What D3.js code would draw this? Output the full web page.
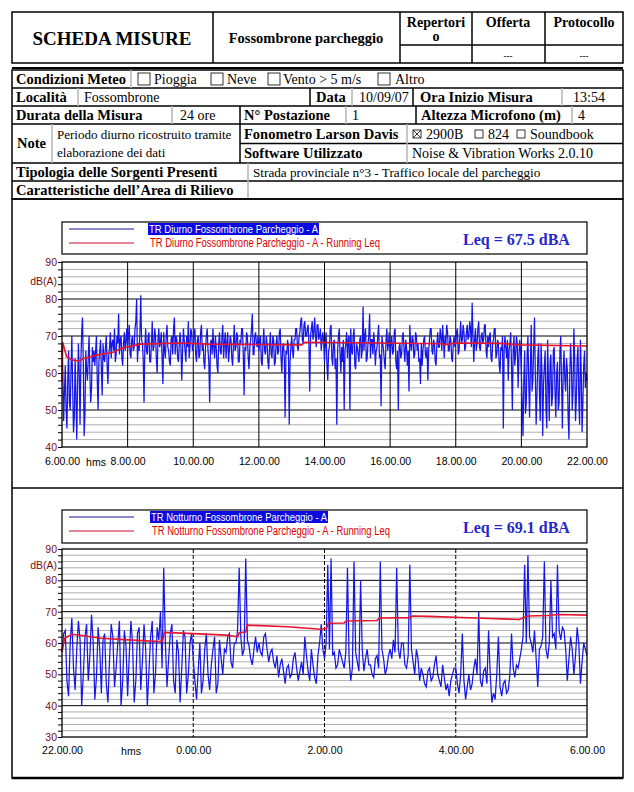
<!DOCTYPE html>
<html>
<head>
<meta charset="utf-8">
<script src="https://cdn.jsdelivr.net/npm/d3@7/dist/d3.min.js"></script>
<style>
  body { margin: 0; background: #fff; }
</style>
</head>
<body>
<script>
//Diurno: level every 1.5 minutes from 6.00 to 22.00 (one row = one hour)
var diurnoStart = 6;
var diurnoLevels = [
  68,60,47,55,62,50,45,58,66,52,50,61,70,56,44,48,64,54,42,57,68,60,46,63,71,75,62,43,49,66,61,58,64,70,60,52,56,67,63,66,
  62,66,70,58,50,63,66,69,61,54,68,64,63,67,70,62,57,65,67,71,64,68,69,66,72,63,65,70,68,76,65,69,70,64,62,68,71,66,69,72,
  66,70,73,65,64,69,70,66,67,72,74,80,63,68,66,71,81,69,68,64,52,67,72,66,65,70,71,63,63,68,74,66,67,72,70,64,60,69,72,67,
  68,71,64,57,71,66,64,70,73,67,66,63,62,69,70,65,72,75,65,70,69,64,63,68,71,67,58,66,72,69,66,63,70,67,74,64,67,72,71,66,
  67,70,72,65,63,69,70,64,65,71,73,66,68,63,61,67,70,72,66,63,52,68,69,65,72,67,64,70,67,62,60,68,71,66,65,70,73,64,68,71,
  64,68,71,63,66,70,69,64,62,68,73,66,67,71,70,63,63,69,68,72,72,65,54,67,66,71,70,64,61,67,69,72,76,65,65,70,71,68,67,70,
  66,69,70,63,62,68,72,66,65,70,68,63,61,67,71,65,64,70,69,62,63,68,70,65,66,71,72,64,60,67,68,64,48,66,65,69,67,46,63,67,
  70,66,64,69,69,72,72,67,66,70,71,74,75,69,68,73,74,70,70,72,73,68,55,70,72,74,69,71,75,70,67,73,73,69,70,72,66,69,71,68,
  63,68,71,62,58,66,67,72,73,64,62,68,69,61,64,46,66,70,72,65,60,67,63,69,50,66,68,71,64,69,70,50,72,66,65,70,72,62,61,68,
  67,65,63,69,70,64,66,78,66,70,72,63,64,68,70,76,64,69,69,65,71,68,62,66,67,70,73,64,65,51,70,68,66,63,61,69,72,66,68,71,
  64,68,70,65,66,71,72,63,61,66,50,67,68,64,65,70,71,66,63,69,67,62,66,55,73,68,66,70,69,64,65,71,70,66,68,63,64,57,68,62,
  66,69,70,65,64,67,58,66,69,72,72,66,65,69,68,63,62,68,71,67,67,72,70,66,73,69,64,70,68,73,71,66,66,70,69,64,63,68,70,67,
  68,71,72,65,66,70,74,68,69,73,71,66,67,71,73,69,70,74,72,67,79,70,63,69,72,66,68,72,74,67,66,70,71,68,69,73,73,66,64,70,
  67,70,71,64,63,68,69,72,72,64,65,69,68,62,60,67,66,70,45,66,70,67,64,69,58,66,68,71,62,50,66,70,62,65,70,68,56,64,69,66,
  60,52,43,58,66,49,52,65,70,57,48,62,73,55,58,67,75,60,46,54,64,68,55,47,68,61,43,57,62,66,50,45,69,58,47,63,65,51,54,66,
  67,55,48,60,63,50,52,66,70,57,45,61,66,58,55,64,61,48,42,59,68,62,50,55,72,64,47,53,64,67,53,46,69,60,44,52,62,66,56,60,
  58
];
var diurnoLeqTimes  = [6.0, 6.02, 6.14, 6.3, 6.5, 6.69, 7.1, 7.56, 7.82, 8.38, 9.65, 10.46, 13.3, 13.4, 15.7, 17.6, 17.65, 18.0, 19.35, 20.0, 22.0];
var diurnoLeqValues = [57.6, 68.3, 64.4, 63.6, 63.2, 64.0, 64.9, 65.6, 66.7, 67.8, 68.1, 67.8, 67.6, 68.3, 68.1, 67.9, 67.6, 68.1, 68.0, 67.6, 67.3];
var diurnoTicks = [6, 8, 10, 12, 14, 16, 18, 20, 22];
var diurnoTickLabels = ["6.00.00", "8.00.00", "10.00.00", "12.00.00", "14.00.00", "16.00.00", "18.00.00", "20.00.00", "22.00.00"];

//Notturno: level every 1.5 minutes from 22.00 to 6.00 (hours after midnight counted as 24+)
var notturnoStart = 22;
var notturnoLevels = [
  57,63,64,48,43,60,68,52,45,58,67,61,40,50,62,66,48,56,69,60,42,49,65,58,44,61,63,47,41,55,66,62,46,52,60,67,40,48,64,59,
  43,56,67,60,41,48,63,65,45,54,66,58,40,51,62,67,44,50,65,61,70,52,84,60,46,55,63,66,48,44,61,57,41,52,64,62,44,50,60,63,
  55,48,42,51,60,44,48,58,63,50,45,53,58,62,44,47,61,55,50,58,57,62,63,54,52,60,60,64,84,62,56,58,87,61,59,55,53,58,62,57,
  60,57,56,62,63,58,54,57,58,54,52,56,49,53,55,51,47,52,53,49,50,55,57,52,48,51,54,50,62,56,51,48,58,53,49,47,56,60,66,58,
  55,60,85,58,87,56,57,52,53,58,56,54,52,57,84,55,48,52,86,57,54,51,80,58,51,55,58,53,53,50,49,55,56,52,86,58,55,50,52,56,
  58,55,61,57,84,58,55,60,60,53,52,56,85,58,54,50,58,55,48,52,50,47,46,51,52,48,49,53,56,50,48,46,53,49,45,47,43,48,50,52,
  52,47,44,50,63,48,42,46,50,45,47,52,55,50,70,48,46,51,52,47,64,50,41,44,42,50,62,46,43,47,48,44,45,50,63,52,49,53,52,55,
  58,62,85,60,88,62,60,57,64,55,46,58,59,62,86,58,55,60,80,62,63,58,85,64,61,65,64,58,48,55,62,58,50,56,65,60,47,54,60,58,
  56
];
var notturnoLeqTimes  = [22.0, 22.04, 22.15, 22.3, 22.6, 23.0, 23.5, 23.53, 23.56, 24.0, 24.5, 24.68, 24.7, 24.8, 24.82, 25.44, 25.74, 25.95, 26.03, 26.06, 26.3, 26.33, 26.8, 26.84, 27.3, 27.34, 27.6, 28.3, 28.97, 29.05, 29.1, 29.4, 29.57, 30.0];
var notturnoLeqValues = [57.2, 61.5, 62.8, 62.4, 61.5, 61.0, 60.5, 60.6, 63.4, 63.0, 62.5, 62.0, 63.3, 63.5, 65.7, 65.2, 64.7, 64.4, 64.6, 66.3, 66.4, 67.0, 67.2, 68.0, 68.1, 68.6, 68.5, 68.0, 67.5, 68.2, 68.6, 68.8, 69.1, 68.9];
var notturnoTicks = [22, 24, 26, 28, 30];
var notturnoTickLabels = ["22.00.00", "0.00.00", "2.00.00", "4.00.00", "6.00.00"];

var stepHours = 1.5 / 60;

var serif = "'Liberation Serif','Times New Roman',serif";
var sans = "'Liberation Sans',Arial,sans-serif";

var svg = d3.select("body").append("svg")
            .attr("width", 634)
            .attr("height", 792);

function hline(x1, x2, y, c, w) {
  svg.append("line").attr("x1", x1).attr("x2", x2).attr("y1", y).attr("y2", y)
     .attr("stroke", c || "#000").attr("stroke-width", w || 1.5);
}
function vline(x, y1, y2, c, w) {
  svg.append("line").attr("x1", x).attr("x2", x).attr("y1", y1).attr("y2", y2)
     .attr("stroke", c || "#000").attr("stroke-width", w || 1.5);
}
function txt(x, y, s, size, bold, anchor) {
  return svg.append("text")
            .attr("x", x).attr("y", y)
            .attr("font-family", serif)
            .attr("font-size", size + "px")
            .attr("font-weight", bold ? "bold" : "normal")
            .attr("text-anchor", anchor || "start")
            .text(s);
}
function box(x, y, s, checked) {
  svg.append("rect").attr("x", x).attr("y", y).attr("width", s).attr("height", s)
     .attr("fill", "none").attr("stroke", "#000").attr("stroke-width", 0.8);
  if (checked) {
    svg.append("path").attr("d", "M" + x + "," + y + "L" + (x + s) + "," + (y + s) + "M" + (x + s) + "," + y + "L" + x + "," + (y + s))
       .attr("stroke", "#000").attr("stroke-width", 0.8);
  }
}

var grey = "#b4b4b4";

//Header
svg.append("rect").attr("x", 12).attr("y", 12).attr("width", 611).attr("height", 51)
   .attr("fill", "none").attr("stroke", "#000").attr("stroke-width", 1.5);
vline(213, 12, 63); vline(400, 12, 63); vline(472, 12, 63); vline(545, 12, 63);
hline(400, 623, 45);
hline(12, 623, 68, "#000", 2);
txt(112, 45, "SCHEDA MISURE", 19, true, "middle");
txt(306, 43, "Fossombrone parcheggio", 14.5, true, "middle");
txt(436, 27, "Repertori", 14, true, "middle");
txt(436, 41, "o", 14, true, "middle");
txt(508, 27, "Offerta", 14, true, "middle");
txt(584, 27, "Protocollo", 14, true, "middle");
txt(508, 59, "---", 9, true, "middle");
txt(584, 59, "---", 9, true, "middle");

//Form rows
svg.append("rect").attr("x", 12).attr("y", 70).attr("width", 611).attr("height", 129)
   .attr("fill", "none").attr("stroke", "#000").attr("stroke-width", 1.5);
[88, 106, 124, 163, 181].forEach(function (y) { hline(12, 623, y); });
hline(240, 623, 143.5);

var L = 14.5, V = 14;
txt(16, 84, "Condizioni Meteo", L, true);
vline(131, 70, 88, grey);
box(138, 73, 12); txt(154, 84, "Pioggia", V);
box(211, 73, 12); txt(227, 84, "Neve", V);
box(268, 73, 12); txt(283, 84, "Vento > 5 m/s", V);
box(378, 73, 12); txt(395, 84, "Altro", V);

txt(16, 102, "Località", L, true);
vline(78, 88, 106, grey);
txt(84, 102, "Fossombrone", V);
vline(310, 88, 106);
txt(316, 102, "Data", L, true);
vline(352, 88, 106, grey);
txt(359, 102, "10/09/07", V);
vline(413, 88, 106);
txt(420, 102, "Ora Inizio Misura", L, true);
vline(562, 88, 106, grey);
txt(573, 102, "13:54", V);

txt(16, 120, "Durata della Misura", L, true);
vline(172, 106, 124, grey);
txt(180, 120, "24 ore", V);
vline(240, 106, 124);
txt(244, 120, "N° Postazione", L, true);
vline(346, 106, 124, grey);
txt(352, 120, "1", V);
vline(416, 106, 124);
txt(421, 120, "Altezza Microfono (m)", L, true);
vline(572, 106, 124, grey);
txt(578, 120, "4", V);

txt(17, 148, "Note", L, true);
vline(52, 124, 163, grey);
txt(57, 139, "Periodo diurno ricostruito tramite", 13);
txt(57, 157, "elaborazione dei dati", 13);
vline(240, 124, 163);
txt(244, 139, "Fonometro Larson Davis", L, true);
txt(244, 158, "Software Utilizzato", L, true);
vline(407, 124, 163, grey);
box(413, 130, 8, true); txt(426, 139, "2900B", V);
box(475, 130, 8); txt(488, 139, "824", V);
box(517, 130, 8); txt(530, 139, "Soundbook", V);
txt(412, 158, "Noise & Vibration Works 2.0.10", V);

txt(16, 177, "Tipologia delle Sorgenti Presenti", L, true);
vline(248, 163, 181, grey);
txt(253, 176.5, "Strada provinciale n°3 - Traffico locale del parcheggio", 13.2);
txt(16, 195, "Caratteristiche dell’Area di Rilievo", L, true);
vline(248, 181, 199, grey);

//Chart panels
svg.append("rect").attr("x", 12).attr("y", 199).attr("width", 611).attr("height", 579)
   .attr("fill", "none").attr("stroke", "#000").attr("stroke-width", 1.5);
hline(12, 623, 488, "#000", 1.5);
hline(12, 623, 778, "#000", 2.5);

function drawChart(o) {
  var x = d3.scaleLinear().domain([o.tMin, o.tMax]).range([62, 587]);
  var y = d3.scaleLinear().domain([o.yMin, o.yMax]).range([o.bottom, o.top]);
  var g = svg.append("g");

  //horizontal grid
  var levels = d3.range(o.yMin, o.yMax + 1, 2);
  g.selectAll(".hg").data(levels.slice(1, -1)).enter().append("line")
   .attr("x1", 62).attr("x2", 587)
   .attr("y1", function (d) { return y(d); })
   .attr("y2", function (d) { return y(d); })
   .attr("stroke", function (d) { return d % 10 === 0 ? "#000" : "#b0b0b0"; })
   .attr("stroke-width", 1);

  //vertical grid
  g.selectAll(".vg").data(o.ticks.slice(1, -1)).enter().append("line")
   .attr("x1", function (d) { return x(d); })
   .attr("x2", function (d) { return x(d); })
   .attr("y1", o.top).attr("y2", o.bottom)
   .attr("stroke", "#000").attr("stroke-width", 1)
   .attr("stroke-dasharray", o.dashed ? "4,2" : null);

  //measured level
  var pts = o.levels.map(function (v, i) { return [o.start + i * stepHours, v]; });
  var line = d3.line().x(function (d) { return x(d[0]); }).y(function (d) { return y(d[1]); });
  g.append("path").datum(pts)
   .attr("d", line)
   .attr("fill", "none").attr("stroke", "#1616e8").attr("stroke-width", 1.25)
   .attr("stroke-linejoin", "miter");

  //running Leq
  var leq = o.leqT.map(function (t, i) { return [t, o.leqV[i]]; });
  g.append("path").datum(leq)
   .attr("d", line)
   .attr("fill", "none").attr("stroke", "#e4152f").attr("stroke-width", 1.6);

  //frame
  g.append("rect").attr("x", 62).attr("y", o.top).attr("width", 525).attr("height", o.bottom - o.top)
   .attr("fill", "none").attr("stroke", "#000").attr("stroke-width", 1.3);

  //y axis
  var ya = g.append("g").attr("transform", "translate(62,0)")
            .call(d3.axisLeft(y).tickValues(levels).tickSize(4).tickPadding(1)
                    .tickFormat(function (d) { return d % 10 === 0 ? d : ""; }));
  ya.select(".domain").remove();
  ya.selectAll("text").attr("fill", "#7a0c0c").attr("font-family", sans).attr("font-size", "10.5px");
  g.append("text").attr("x", 57).attr("y", y(85) + 4).attr("text-anchor", "end")
   .attr("font-family", sans).attr("font-size", "10.5px").attr("fill", "#7a0c0c").text("dB(A)");

  //x axis labels
  var xa = g.append("g").attr("transform", "translate(0," + o.bottom + ")")
            .call(d3.axisBottom(x).tickValues(o.ticks).tickSize(0).tickPadding(o.pad)
                    .tickFormat(function (d, i) { return o.tickLabels[i]; }));
  xa.select(".domain").remove();
  xa.selectAll("text").attr("fill", "#000").attr("font-family", sans).attr("font-size", "10.5px");
  g.append("text").attr("x", o.hmsX).attr("y", o.bottom + o.pad + 7.5).attr("text-anchor", "middle")
   .attr("font-family", sans).attr("font-size", "10.5px").text("hms");

  //legend
  g.append("rect").attr("x", 62).attr("y", o.legTop).attr("width", 525).attr("height", o.legH)
   .attr("fill", "#fff").attr("stroke", "#000").attr("stroke-width", 1.2);
  g.append("line").attr("x1", 69).attr("x2", 134).attr("y1", o.legTop + 7).attr("y2", o.legTop + 7)
   .attr("stroke", "#14149a").attr("stroke-width", 1);
  g.append("line").attr("x1", 69).attr("x2", 134).attr("y1", o.legTop + 21).attr("y2", o.legTop + 21)
   .attr("stroke", "#c8102e").attr("stroke-width", 1);
  g.append("rect").attr("x", o.hlX).attr("y", o.legTop + 1).attr("width", o.hlW).attr("height", 12)
   .attr("fill", "#0a0ae0");
  g.append("text").attr("x", o.hlX + 1).attr("y", o.legTop + 11)
   .attr("font-family", sans).attr("font-size", "11.5px").attr("fill", "#fff")
   .attr("textLength", o.hlW - 2).attr("lengthAdjust", "spacingAndGlyphs")
   .text(o.name);
  g.append("text").attr("x", o.hlX + 2).attr("y", o.legTop + 25)
   .attr("font-family", sans).attr("font-size", "12px").attr("fill", "#e00000")
   .attr("textLength", o.name2W).attr("lengthAdjust", "spacingAndGlyphs")
   .text(o.name + " - Running Leq");
  g.append("text").attr("x", 463).attr("y", o.legTop + 23)
   .attr("font-family", serif).attr("font-size", "16px").attr("font-weight", "bold")
   .attr("fill", "#2626cc").text("Leq = " + o.leq + " dBA");
}

drawChart({
  tMin: 6, tMax: 22, yMin: 40, yMax: 90, top: 262, bottom: 447, pad: 11,
  ticks: diurnoTicks, tickLabels: diurnoTickLabels, hmsX: 96,
  start: diurnoStart, levels: diurnoLevels, leqT: diurnoLeqTimes, leqV: diurnoLeqValues,
  dashed: false, legTop: 222, legH: 32, hlX: 148, hlW: 171, name2W: 230,
  name: "TR Diurno Fossombrone Parcheggio - A", leq: "67.5"
});

drawChart({
  tMin: 22, tMax: 30, yMin: 30, yMax: 90, top: 549, bottom: 737, pad: 10,
  ticks: notturnoTicks, tickLabels: notturnoTickLabels, hmsX: 131,
  start: notturnoStart, levels: notturnoLevels, leqT: notturnoLeqTimes, leqV: notturnoLeqValues,
  dashed: true, legTop: 510, legH: 33, hlX: 150, hlW: 178, name2W: 238,
  name: "TR Notturno Fossombrone Parcheggio - A", leq: "69.1"
});
</script>
</body>
</html>
